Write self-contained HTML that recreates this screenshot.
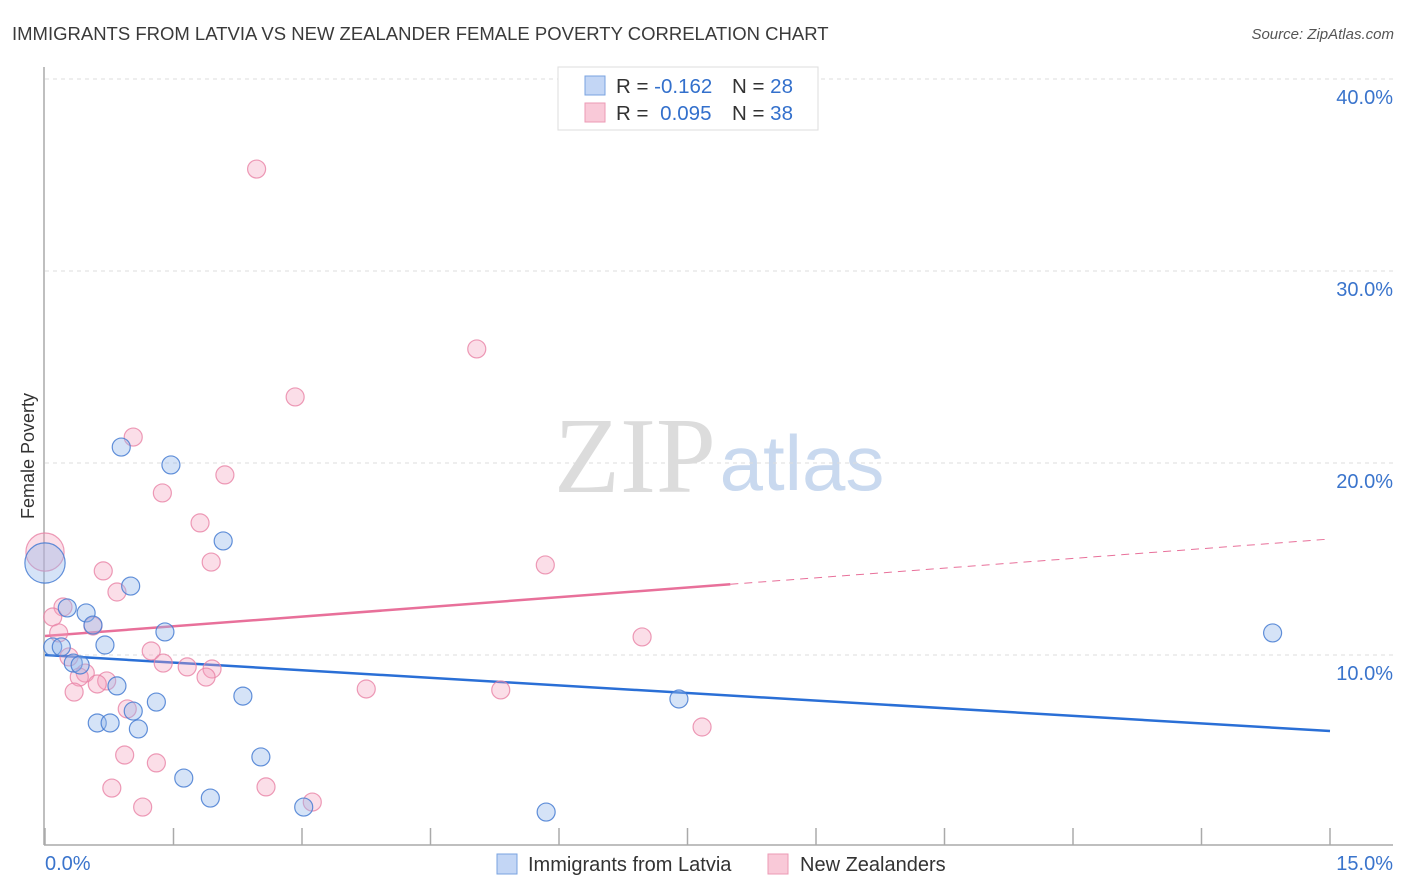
<!DOCTYPE html>
<html><head><meta charset="utf-8">
<style>
body{margin:0;background:#fff;font-family:"Liberation Sans",sans-serif;}
#wrap{position:relative;width:1406px;height:892px;overflow:hidden;}
</style></head>
<body>
<div id="wrap">
<svg id="chart" width="1406" height="892" xmlns="http://www.w3.org/2000/svg">
<text x="12" y="40" font-size="18.5" fill="#3a3a3a">IMMIGRANTS FROM LATVIA VS NEW ZEALANDER FEMALE POVERTY CORRELATION CHART</text>
<text x="1394" y="39" font-size="15" fill="#555" font-style="italic" text-anchor="end">Source: ZipAtlas.com</text>
<text x="635" y="492" font-size="108" fill="#dcdcdc" font-family="Liberation Serif,serif" text-anchor="middle">ZIP</text>
<text x="802" y="490" font-size="78" fill="#c9d9ef" text-anchor="middle">atlas</text>
<text transform="translate(34,456) rotate(-90)" font-size="18" fill="#333" text-anchor="middle">Female Poverty</text>
<g id="grid"></g><g id="axes"></g><g id="trend"></g><g id="pts"></g>
<g>
<rect x="558" y="67" width="260" height="63" fill="#fff" stroke="#ddd"/>
<rect x="585" y="76" width="20" height="19" fill="#c3d6f5" stroke="#7aa3e0"/>
<rect x="585" y="103" width="20" height="19" fill="#f9c9d8" stroke="#ec9ab5"/>
<text x="616" y="93" font-size="20.5" fill="#333">R = <tspan fill="#3370cc">-0.162</tspan></text>
<text x="732" y="93" font-size="20.5" fill="#333">N = <tspan fill="#3370cc">28</tspan></text>
<text x="616" y="120" font-size="20.5" fill="#333">R = <tspan fill="#3370cc" dx="6">0.095</tspan></text>
<text x="732" y="120" font-size="20.5" fill="#333">N = <tspan fill="#3370cc">38</tspan></text>
</g>
<g>
<rect x="497" y="854" width="20" height="20" fill="#c3d6f5" stroke="#7aa3e0"/>
<text x="528" y="871" font-size="20" fill="#333">Immigrants from Latvia</text>
<rect x="768" y="854" width="20" height="20" fill="#f9c9d8" stroke="#ec9ab5"/>
<text x="800" y="871" font-size="20" fill="#333">New Zealanders</text>
</g>
</svg>
</div>
<script>
const yTicks=[10,20,30,40];
const yTickLabels=["10.0%","20.0%","30.0%","40.0%"];
const xTickLabels=["0.0%","15.0%"];
const blueX=[2.08,1.00,0.26,0.48,0.56,1.40,0.09,0.19,0.70,0.33,0.41,0.84,1.30,2.31,1.03,0.61,0.76,1.09,2.52,1.62,1.93,3.02,0.89,1.47,0.00,5.85,7.40,14.33];
const blueY=[15.94,13.59,12.45,12.19,11.56,11.20,10.42,10.42,10.52,9.58,9.48,8.39,7.55,7.86,7.08,6.46,6.46,6.15,4.69,3.59,2.55,2.08,20.83,19.90,14.79,1.82,7.71,11.15];
const blueW=[1,1,1,1,1,1,1,1,1,1,1,1,1,1,1,1,1,1,1,1,1,1,1,1,5,1,1,1];
const pinkX=[1.81,1.94,0.68,0.84,0.21,0.09,0.16,0.56,1.24,1.38,1.66,1.95,1.88,0.28,0.47,0.40,0.72,0.61,0.34,0.96,0.93,1.30,0.78,1.14,2.58,3.12,0.00,2.47,5.04,2.92,1.03,1.37,2.10,5.84,6.97,3.75,5.32,7.67];
const pinkY=[16.88,14.84,14.38,13.28,12.50,11.98,11.15,11.51,10.21,9.58,9.38,9.27,8.85,9.90,9.06,8.85,8.65,8.49,8.07,7.19,4.79,4.38,3.07,2.08,3.13,2.34,15.36,35.31,25.94,23.44,21.35,18.44,19.38,14.69,10.94,8.23,8.18,6.25];
const pinkW=[1,1,1,1,1,1,1,1,1,1,1,1,1,1,1,1,1,1,1,1,1,1,1,1,1,1,4.5,1,1,1,1,1,1,1,1,1,1,1];
const blueTrend=[10.0,6.04];
const pinkTrend=[10.99,16.04];
const pinkSolidEnd=8.0;

const NS="http://www.w3.org/2000/svg";
const X0=45,X1=1330,Y0=847,PPY=19.2;
function sx(v){return X0+(v/15)*(X1-X0);}
function sy(v){return Y0-v*PPY;}
function mk(tag,attrs,parent){const e=document.createElementNS(NS,tag);for(const k in attrs)e.setAttribute(k,attrs[k]);parent.appendChild(e);return e;}
const grid=document.getElementById('grid'),axes=document.getElementById('axes'),trend=document.getElementById('trend'),pts=document.getElementById('pts');
yTicks.forEach((t,i)=>{
  const l=mk('line',{x1:45,x2:1393,y1:sy(t),y2:sy(t),stroke:'#ddd','stroke-dasharray':'4,4'},grid);
  
  
  const tx=mk('text',{x:1393,y:sy(t)+25,'font-size':20,fill:'#3a74cc','text-anchor':'end'},grid);
  tx.textContent=yTickLabels[i];
  
  
});
const la=mk('line',{x1:44,x2:44,y1:67,y2:845,stroke:'#aaa','stroke-width':1.5},axes);


const ba=mk('line',{x1:44,x2:1393,y1:845,y2:845,stroke:'#aaa','stroke-width':1.5},axes);


for(let i=0;i<=10;i++){
  const x=sx(i*1.5);
  const t=mk('line',{x1:x,x2:x,y1:828,y2:845,stroke:'#aaa','stroke-width':1.5},axes);
  
  
}
const xl0=mk('text',{x:45,y:870,'font-size':20,fill:'#3a74cc'},axes);xl0.textContent=xTickLabels[0];


const xl1=mk('text',{x:1393,y:870,'font-size':20,fill:'#3a74cc','text-anchor':'end'},axes);xl1.textContent=xTickLabels[1];



function pinkAt(x){return pinkTrend[0]+(pinkTrend[1]-pinkTrend[0])*x/15;}
function dots(xs,ys,ws,fill,stroke,name){
  xs.forEach((x,i)=>{
    const c=mk('circle',{cx:sx(x),cy:sy(ys[i]),r:9*Math.sqrt(ws[i]),fill:fill,stroke:stroke,'stroke-width':1.2},pts);
    
    
  });
}
dots(pinkX,pinkY,pinkW,'rgba(244,160,188,0.35)','rgba(232,130,165,0.8)','point-new-zealanders');
dots(blueX,blueY,blueW,'rgba(150,185,235,0.4)','rgba(70,125,210,0.85)','point-latvia');
const bt=mk('line',{x1:sx(0),y1:sy(blueTrend[0]),x2:sx(15),y2:sy(blueTrend[1]),stroke:'#2a6fd6','stroke-width':2.5},trend);


const pt=mk('line',{x1:sx(0),y1:sy(pinkAt(0)),x2:sx(pinkSolidEnd),y2:sy(pinkAt(pinkSolidEnd)),stroke:'#e8709a','stroke-width':2.5},trend);


const pd=mk('line',{x1:sx(pinkSolidEnd),y1:sy(pinkAt(pinkSolidEnd)),x2:sx(15),y2:sy(pinkAt(15)),stroke:'#e8709a','stroke-width':1,'stroke-dasharray':'8,6'},trend);


</script>
</body></html>
